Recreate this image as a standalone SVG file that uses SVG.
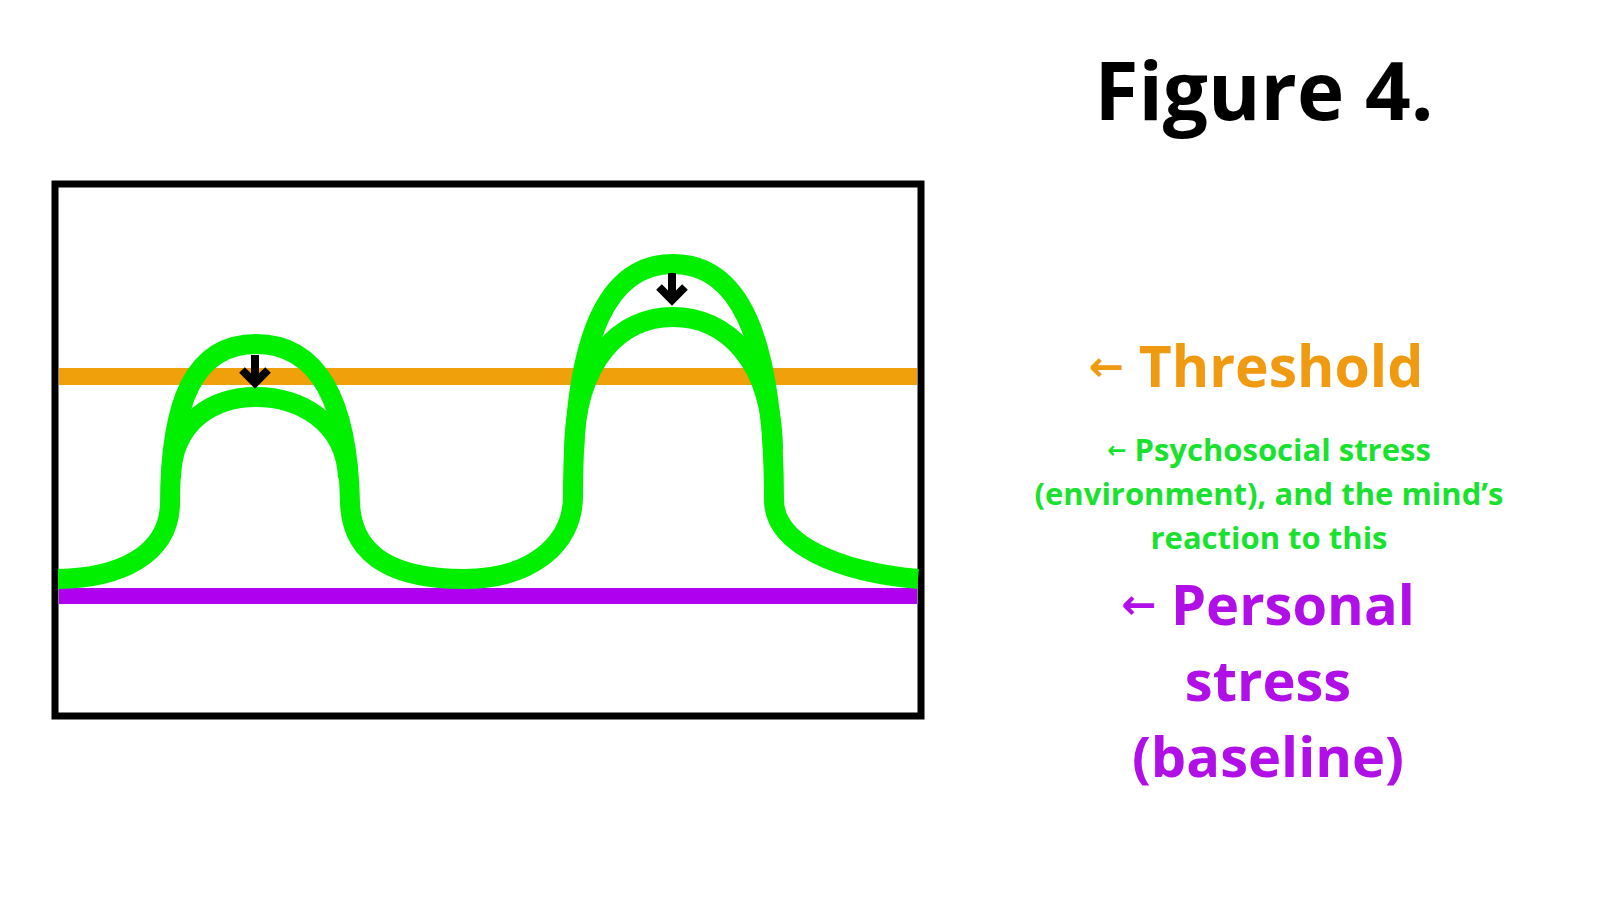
<svg xmlns="http://www.w3.org/2000/svg" width="1600" height="900" viewBox="0 0 1600 900">
<style>
.t{font-family:"Open Sans","Liberation Sans",sans-serif;font-weight:700;text-anchor:middle}
.ar{font-family:"DejaVu Sans",sans-serif;font-weight:700}
.g{fill:none;stroke:#00F000;stroke-width:20;stroke-linejoin:round}
.arr{fill:none;stroke:#000;stroke-width:8;stroke-linejoin:miter}
</style>
<rect width="1600" height="900" fill="#fff"/>
<g id="title"><text class="t" x="1264" y="120" font-size="80" fill="#000">Figure 4.</text></g>
<g id="chart">
<rect id="frame" x="55" y="184" width="866" height="532" fill="#fff" stroke="#000" stroke-width="7"/>
<rect id="threshold-line" x="59" y="368" width="858" height="17" fill="#F0A00A"/>
<rect id="baseline-line" x="59" y="588" width="858" height="16" fill="#B000F0"/>
<g id="stress-curves">
<path class="g" d="M58,579 C120,578 168,555 170,505 C170,400 195,344 256,344 C317,344 348,400 350,503 C352,560 400,579 464,579 C530,579 573,545 573,496 C573,330 610,264 673,264 C736,264 774,330 774,500 C774,545 840,572 918,579"/>
<path class="g" d="M171,478 C172,420 215,397 256,397 C297,397 346,420 348,478"/>
<path class="g" d="M574,450 C576,360 620,317 673,317 C726,317 772,360 773,450"/>
</g>
<g id="arrows">
<path class="arr" d="M255,355 V383 M242,370 L255,383 L268,370"/>
<path class="arr" d="M672,273 V300 M659,287 L672,300 L685,287"/>
</g>
</g>
<g id="label-threshold"><text class="t" x="1256" y="387" font-size="57" fill="#F09A12"><tspan class="ar" font-size="42" dy="-6">←</tspan><tspan dy="6"> Threshold</tspan></text></g>
<g id="label-psychosocial" class="t" font-size="31" fill="#19E22E">
<text class="t" x="1269" y="461"><tspan class="ar" font-size="23" dy="-3">←</tspan><tspan dy="3"> Psychosocial stress</tspan></text>
<text class="t" x="1269" y="505">(environment), and the mind’s</text>
<text class="t" x="1269" y="549">reaction to this</text>
</g>
<g id="label-personal" class="t" font-size="56" fill="#B10FE8">
<text class="t" x="1268" y="625"><tspan class="ar" font-size="42" dy="-6">←</tspan><tspan dy="6"> Personal</tspan></text>
<text class="t" x="1268" y="701">stress</text>
<text class="t" x="1268" y="777">(baseline)</text>
</g>
</svg>
